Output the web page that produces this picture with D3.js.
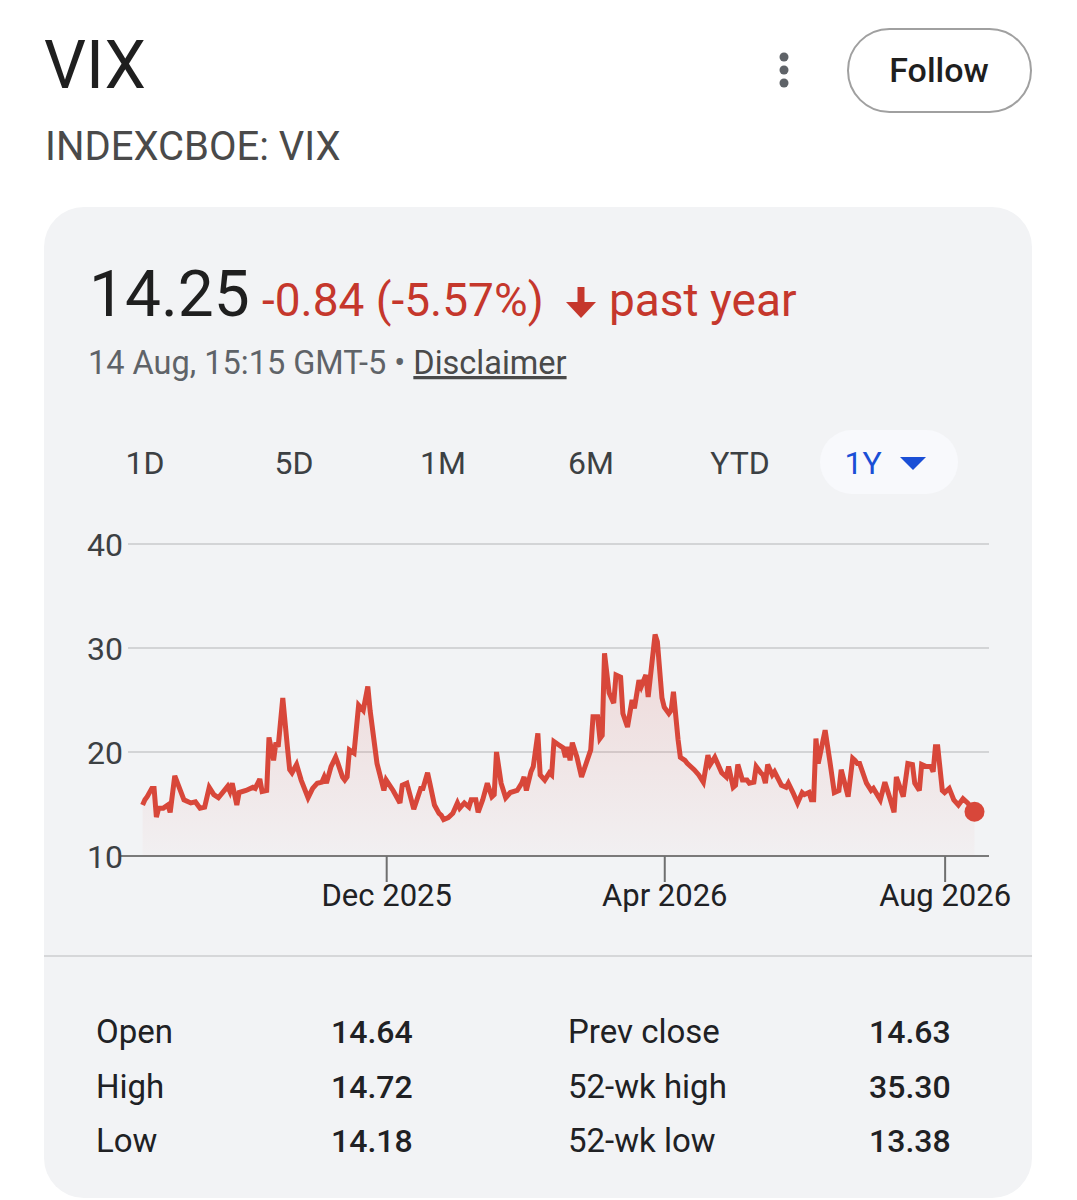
<!DOCTYPE html>
<html><head><meta charset="utf-8">
<script src="https://cdn.jsdelivr.net/npm/d3@7"></script>
<style>
html,body{margin:0;padding:0;background:#fff;}
svg text{font-family:Roboto,"Liberation Sans",Arial,sans-serif;}
</style></head>
<body>
<svg id="c" width="1077" height="1200"></svg>
<script>
// ---- data ----
const dates = ["2025-08-17","2025-08-18","2025-08-19","2025-08-21","2025-08-22","2025-08-23","2025-08-24","2025-08-26","2025-08-28","2025-08-29","2025-08-31",
"2025-09-04","2025-09-07","2025-09-09","2025-09-11","2025-09-13","2025-09-15","2025-09-17","2025-09-19","2025-09-23","2025-09-24","2025-09-25","2025-09-27","2025-09-28",
"2025-10-01","2025-10-04","2025-10-05","2025-10-07","2025-10-08","2025-10-10","2025-10-11","2025-10-13","2025-10-14","2025-10-15","2025-10-17","2025-10-19","2025-10-20","2025-10-21","2025-10-23","2025-10-25","2025-10-28","2025-10-30",
"2025-11-01","2025-11-03","2025-11-04","2025-11-05","2025-11-07","2025-11-09","2025-11-10","2025-11-12","2025-11-13","2025-11-14","2025-11-15","2025-11-17","2025-11-19","2025-11-21","2025-11-23","2025-11-24","2025-11-27","2025-11-30",
"2025-12-01","2025-12-04","2025-12-07","2025-12-08","2025-12-10","2025-12-13","2025-12-16","2025-12-17","2025-12-19","2025-12-20","2025-12-22","2025-12-24","2025-12-25","2025-12-26","2025-12-28","2025-12-30",
"2026-01-01","2026-01-02","2026-01-04","2026-01-06","2026-01-07","2026-01-09","2026-01-10","2026-01-12","2026-01-14","2026-01-16","2026-01-17","2026-01-18","2026-01-20","2026-01-22","2026-01-24","2026-01-27","2026-01-29","2026-01-30","2026-01-31",
"2026-02-02","2026-02-03","2026-02-05","2026-02-06","2026-02-08","2026-02-10","2026-02-11","2026-02-12","2026-02-14","2026-02-16","2026-02-17","2026-02-18","2026-02-19","2026-02-20","2026-02-22","2026-02-24","2026-02-26","2026-02-28",
"2026-03-01","2026-03-03","2026-03-04","2026-03-05","2026-03-06","2026-03-08","2026-03-10","2026-03-11","2026-03-13","2026-03-14","2026-03-16","2026-03-18","2026-03-19","2026-03-21","2026-03-22","2026-03-24","2026-03-25","2026-03-28","2026-03-29","2026-03-31",
"2026-04-01","2026-04-03","2026-04-04","2026-04-05","2026-04-07","2026-04-08","2026-04-10","2026-04-11","2026-04-14","2026-04-16","2026-04-18","2026-04-20","2026-04-21","2026-04-23","2026-04-26","2026-04-28","2026-04-29",
"2026-05-01","2026-05-02","2026-05-03","2026-05-05","2026-05-07","2026-05-08","2026-05-10","2026-05-11","2026-05-13","2026-05-14","2026-05-15","2026-05-16","2026-05-18","2026-05-19","2026-05-22","2026-05-24","2026-05-25","2026-05-27","2026-05-29","2026-05-31",
"2026-06-01","2026-06-03","2026-06-04","2026-06-05","2026-06-06","2026-06-07","2026-06-10","2026-06-12","2026-06-14","2026-06-16","2026-06-17","2026-06-20","2026-06-22","2026-06-23","2026-06-24","2026-06-25","2026-06-28","2026-06-30",
"2026-07-01","2026-07-04","2026-07-06","2026-07-08","2026-07-10","2026-07-11","2026-07-14","2026-07-16","2026-07-18","2026-07-19","2026-07-21","2026-07-22","2026-07-24","2026-07-26","2026-07-27","2026-07-28","2026-07-29","2026-07-31",
"2026-08-01","2026-08-03","2026-08-05","2026-08-07","2026-08-09","2026-08-11","2026-08-14"];
const values = [14.9,15.4,15.7,16.5,16.5,13.75,14.6,14.6,14.9,14.2,17.7,
15.4,15.1,15.2,14.6,14.7,16.6,15.9,15.6,16.7,16.2,17.0,14.9,16.1,
16.3,16.6,16.5,17.4,16.2,16.3,21.4,19.2,20.9,20.5,25.2,20.5,18.3,18.0,18.8,17.3,15.6,16.5,
17.0,17.1,17.6,17.0,18.6,19.5,18.9,17.6,17.3,17.6,20.2,19.9,24.5,24.0,26.3,24.0,18.9,16.3,
17.3,16.3,15.1,16.8,17.0,14.5,16.5,16.5,18.0,17.0,14.9,14.1,13.9,13.5,13.7,14.1,
15.1,14.6,15.1,14.7,15.4,15.4,14.2,15.4,17.0,15.7,15.9,20.0,17.0,15.6,16.1,16.3,17.0,17.6,16.3,
18.1,18.6,21.8,17.8,17.3,18.0,17.8,21.0,20.7,20.4,19.5,20.5,19.2,20.9,19.5,17.6,18.9,20.2,
23.4,23.4,21.3,21.6,29.5,25.7,24.7,27.4,27.2,23.7,22.4,25.0,24.2,26.9,26.3,27.4,25.3,31.3,30.6,25.2,
24.3,23.7,24.0,25.8,21.2,19.5,19.2,18.9,18.3,17.8,17.1,19.7,18.8,19.5,18.0,17.6,18.6,
16.6,16.8,18.8,17.3,17.3,17.0,17.1,18.6,18.0,17.8,17.0,18.8,17.8,18.1,16.8,16.6,17.0,16.1,15.1,16.1,
15.9,16.1,15.4,15.4,21.3,18.9,22.1,19.2,16.1,16.3,18.3,15.7,19.4,19.2,18.9,18.9,17.0,16.3,
16.5,15.4,17.1,15.7,14.2,17.6,15.7,18.9,18.8,17.0,16.3,18.8,18.6,18.6,18.1,20.5,20.5,16.3,
16.1,16.5,15.4,14.9,15.5,15.1,14.25];
const yTicks = [10, 20, 30, 40];
const xTickDates = ["2025-12-01", "2026-04-01", "2026-08-01"];
const xTickLabels = ["Dec 2025", "Apr 2026", "Aug 2026"];
const tabs = ["1D", "5D", "1M", "6M", "YTD", "1Y"];
const statLabelsL = ["Open", "High", "Low"];
const statValuesL = ["14.64", "14.72", "14.18"];
const statLabelsR = ["Prev close", "52-wk high", "52-wk low"];
const statValuesR = ["14.63", "35.30", "13.38"];

const parse = d3.utcParse("%Y-%m-%d");
const data = dates.map((d, i) => ({ date: parse(d), value: values[i] }));

const svg = d3.select("#c");
const RED = "#d8473a";
const RED_T = "#c5372c";

// header
svg.append("text").attr("x", 44).attr("y", 88).attr("font-size", 66).attr("fill", "#1f1f1f").text("VIX");
svg.append("text").attr("x", 45).attr("y", 160).attr("font-size", 40).attr("fill", "#4a4a4a").text("INDEXCBOE: VIX");
[57, 70, 83].forEach(cy => svg.append("circle").attr("cx", 784).attr("cy", cy).attr("r", 4.5).attr("fill", "#5f6368"));
svg.append("rect").attr("x", 848).attr("y", 29).attr("width", 183).attr("height", 83).attr("rx", 41.5)
  .attr("fill", "#fff").attr("stroke", "#a0a0a0").attr("stroke-width", 2);
svg.append("text").attr("x", 939).attr("y", 82).attr("text-anchor", "middle").attr("font-size", 34)
  .attr("font-weight", 500).attr("fill", "#1f1f1f").text("Follow");

// card
svg.append("rect").attr("x", 44).attr("y", 207).attr("width", 988).attr("height", 991).attr("rx", 40).attr("fill", "#f2f3f5");
svg.append("line").attr("x1", 44).attr("x2", 1032).attr("y1", 956).attr("y2", 956).attr("stroke", "#d6d7d9").attr("stroke-width", 2);

// price line
svg.append("text").attr("x", 89).attr("y", 316).attr("font-size", 64).attr("fill", "#1f1f1f").text("14.25");
svg.append("text").attr("x", 262).attr("y", 316).attr("font-size", 46).attr("fill", RED_T).text("-0.84 (-5.57%)");
// arrow
const ax = 581;
svg.append("path").attr("d", `M${ax-3.5},287 L${ax+3.5},287 L${ax+3.5},302 L${ax+15},302 L${ax},318 L${ax-15},302 L${ax-3.5},302 Z`).attr("fill", RED_T);
svg.append("text").attr("x", 609).attr("y", 316).attr("font-size", 46).attr("fill", RED_T).text("past year");

const st = svg.append("text").attr("x", 88).attr("y", 374).attr("font-size", 32.5).attr("fill", "#5f6368");
st.append("tspan").text("14 Aug, 15:15 GMT-5 • ");
st.append("tspan").attr("fill", "#4a4a4a").attr("text-decoration", "underline").text("Disclaimer");

// tabs
svg.append("rect").attr("x", 820).attr("y", 430).attr("width", 138).attr("height", 64).attr("rx", 32).attr("fill", "#f8f9fc");
const tabX = [145, 294, 443, 591, 740, 863];
tabs.forEach((t, i) => {
  svg.append("text").attr("x", tabX[i]).attr("y", 474).attr("text-anchor", "middle").attr("font-size", 32)
    .attr("fill", i === 5 ? "#1a4fd6" : "#3c4043").text(t);
});
svg.append("path").attr("d", "M900,457 L926,457 L913,470 Z").attr("fill", "#1a4fd6");

// chart
const x = d3.scaleUtc().domain([parse("2025-08-15"), parse("2026-08-14")]).range([138, 974.5]);
const y = d3.scaleLinear().domain([10, 40]).range([856, 544]);

const grid = svg.append("g");
yTicks.forEach(t => {
  grid.append("line").attr("x1", t === 10 ? 120 : 128).attr("x2", 989).attr("y1", y(t)).attr("y2", y(t))
    .attr("stroke", t === 10 ? "#7a7a7a" : "#d3d4d6").attr("stroke-width", 2);
  grid.append("text").attr("x", 87).attr("y", y(t)).attr("dy", "0.36em").attr("font-size", 32).attr("fill", "#3c4043").text(t);
});

const xAxis = d3.axisBottom(x).tickValues(xTickDates.map(parse)).tickSize(26)
  .tickFormat((d, i) => xTickLabels[i]);
const gx = svg.append("g").attr("transform", "translate(0,856)").call(xAxis);
gx.select(".domain").remove();
gx.selectAll(".tick line").attr("stroke", "#6f6f6f").attr("stroke-width", 2);
gx.selectAll(".tick text").attr("font-size", 31).attr("fill", "#202124").attr("y", 28).attr("dy", "0.71em")
  .style("font-family", "Roboto, 'Liberation Sans', Arial, sans-serif");

const defs = svg.append("defs");
const grad = defs.append("linearGradient").attr("id", "ag").attr("x1", 0).attr("x2", 0).attr("y1", 0).attr("y2", 1);
grad.append("stop").attr("offset", "0%").attr("stop-color", RED).attr("stop-opacity", 0.16);
grad.append("stop").attr("offset", "100%").attr("stop-color", RED).attr("stop-opacity", 0.02);

const area = d3.area().x(d => x(d.date)).y0(y(10)).y1(d => y(d.value));
svg.append("path").datum(data).attr("d", area).attr("fill", "url(#ag)");
const line = d3.line().x(d => x(d.date)).y(d => y(d.value));
svg.append("path").datum(data).attr("d", line).attr("fill", "none").attr("stroke", RED)
  .attr("stroke-width", 5).attr("stroke-linejoin", "miter").attr("stroke-miterlimit", 3);
const last = data[data.length - 1];
svg.append("circle").attr("cx", x(last.date)).attr("cy", y(last.value)).attr("r", 10).attr("fill", RED);

// stats
const rowY = [1043, 1098, 1152];
rowY.forEach((ry, i) => {
  svg.append("text").attr("x", 96).attr("y", ry).attr("font-size", 33).attr("fill", "#202124").text(statLabelsL[i]);
  svg.append("text").attr("x", 331).attr("y", ry).attr("font-size", 32).attr("font-weight", 500).attr("fill", "#202124").text(statValuesL[i]);
  svg.append("text").attr("x", 568).attr("y", ry).attr("font-size", 33).attr("fill", "#202124").text(statLabelsR[i]);
  svg.append("text").attr("x", 869).attr("y", ry).attr("font-size", 32).attr("font-weight", 500).attr("fill", "#202124").text(statValuesR[i]);
});
</script>
</body></html>
